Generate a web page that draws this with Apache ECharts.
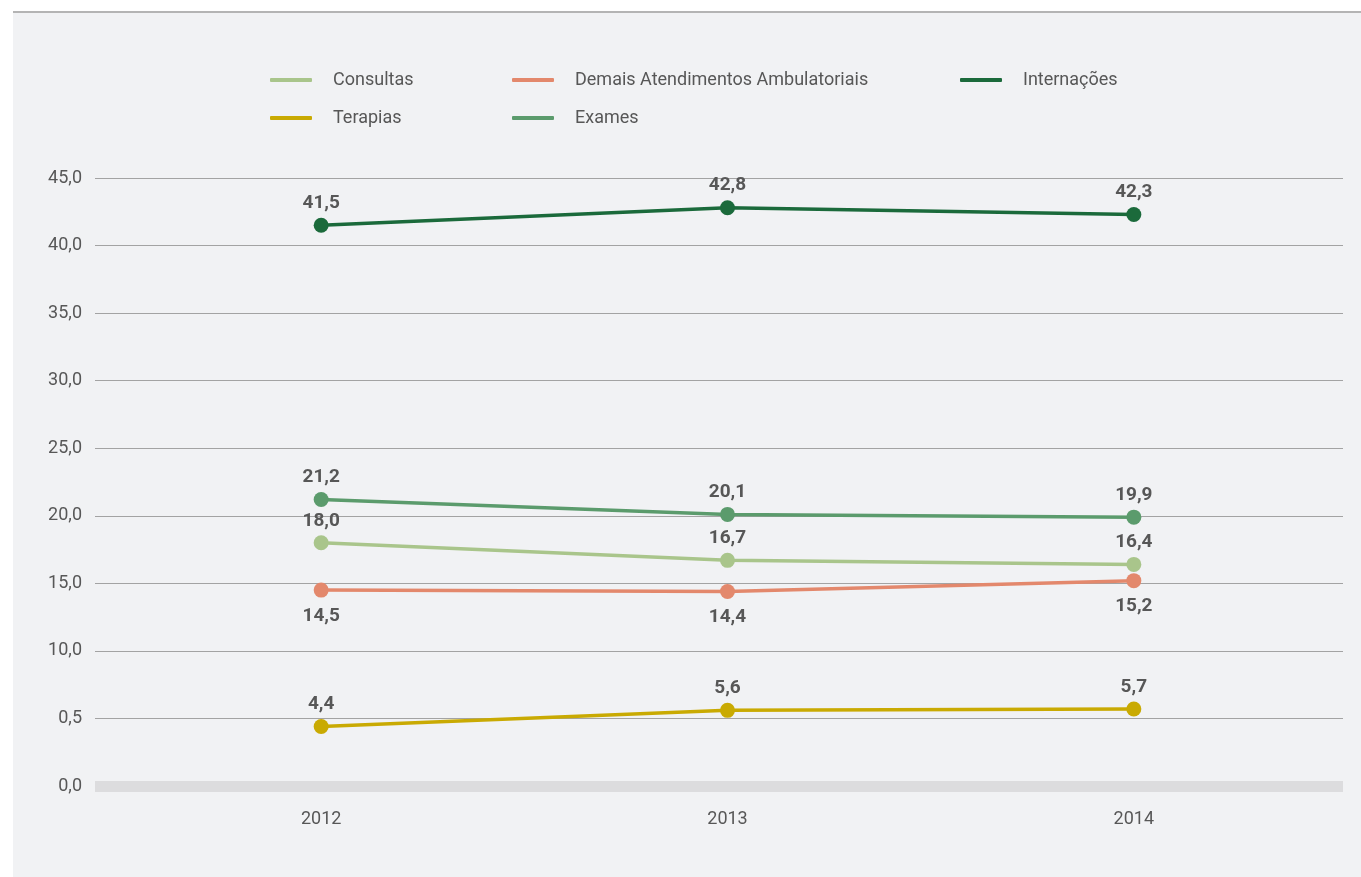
<!DOCTYPE html>
<html>
<head>
<meta charset="utf-8">
<script src="https://cdn.jsdelivr.net/npm/echarts@6/dist/echarts.min.js"></script>
<style>
    html, body {
        margin: 0;
        padding: 0;
        background: #fff;
    }
    .panel {
        position: absolute;
        left: 13px;
        top: 11px;
        right: 0;
        bottom: 0;
        background: #f1f2f4;
        border-top: 2px solid #b4b4b4;
    }
    #main {
        position: absolute;
        left: 0;
        top: 0;
        width: 1361px;
        height: 877px;
    }
</style>
</head>
<body>
<div class="panel"></div>
<div id="main"></div>
<script>
// dados do gráfico
const anos = ['2012', '2013', '2014']
const internacoes = [41.5, 42.8, 42.3]
const exames = [21.2, 20.1, 19.9]
const consultas = [18.0, 16.7, 16.4]
const demais = [14.5, 14.4, 15.2]
const terapias = [4.4, 5.6, 5.7]
// rótulos do eixo y como aparecem no original
const rotulosY = ['0,0', '0,5', '10,0', '15,0', '20,0', '25,0', '30,0', '35,0', '40,0', '45,0']

const fonte = 'Roboto, sans-serif'
const cinzaTexto = '#575757'

function fmt(v) {
    return v.toFixed(1).replace('.', ',')
}

function serie(nome, dados, cor, pos) {
    return {
        name: nome,
        type: 'line',
        xAxisIndex: 1,
        yAxisIndex: 1,
        data: dados,
        symbol: 'circle',
        symbolSize: 15,
        color: cor,
        lineStyle: { width: 3.5, color: cor },
        itemStyle: { color: cor },
        label: {
            show: true,
            position: pos,
            distance: pos === 'top' ? 5 : 9,
            color: cinzaTexto,
            fontFamily: fonte,
            fontWeight: 'bold',
            fontSize: 19,
            formatter: p => fmt(p.value)
        },
        animation: false
    }
}

function legenda(left, nomes) {
    return {
        orient: 'vertical',
        left: left,
        top: 71,
        padding: 0,
        itemWidth: 42,
        itemHeight: 4,
        itemGap: 20,
        icon: 'roundRect',
        data: nomes,
        selectedMode: false,
        textStyle: {
            fontFamily: fonte,
            fontSize: 18,
            lineHeight: 18,
            color: cinzaTexto,
            padding: [0, 0, 0, 16]
        }
    }
}

let chart = echarts.init(document.getElementById('main'))
let option = {
    backgroundColor: 'transparent',
    legend: [
        legenda(270, ['Consultas', 'Terapias']),
        legenda(512, ['Demais Atendimentos Ambulatoriais', 'Exames']),
        legenda(960, ['Internações'])
    ],
    grid: [
        { left: 95, right: 18, top: 178, bottom: 91 },
        { left: 118, right: 24, top: 178, bottom: 91 }
    ],
    xAxis: [
        {
            type: 'value',
            gridIndex: 0,
            min: 0,
            max: 1,
            axisLine: { show: true, lineStyle: { color: '#dcdcde', width: 11, cap: 'butt' } },
            axisTick: { show: false },
            axisLabel: { show: false },
            splitLine: { show: false }
        },
        {
            type: 'category',
            gridIndex: 1,
            data: anos,
            axisLine: { show: false },
            axisTick: { show: false },
            axisLabel: {
                margin: 24,
                color: cinzaTexto,
                fontFamily: fonte,
                fontSize: 18
            }
        }
    ],
    yAxis: [
        {
            type: 'value',
            gridIndex: 0,
            min: 0,
            max: 45,
            interval: 5,
            axisLine: { show: false },
            axisTick: { show: false },
            axisLabel: {
                margin: 13,
                color: cinzaTexto,
                fontFamily: fonte,
                fontSize: 18,
                padding: [0, 0, 12, 0],
                formatter: (v, i) => rotulosY[i]
            },
            splitLine: {
                show: true,
                lineStyle: { color: '#a3a3a3', width: 1 }
            }
        },
        {
            type: 'value',
            gridIndex: 1,
            min: 0,
            max: 45,
            show: false
        }
    ],
    series: [
        serie('Consultas', consultas, '#a9c58b', 'top'),
        serie('Demais Atendimentos Ambulatoriais', demais, '#e3886c', 'bottom'),
        serie('Internações', internacoes, '#1b6a3b', 'top'),
        serie('Terapias', terapias, '#c9aa02', 'top'),
        serie('Exames', exames, '#5b9b6c', 'top')
    ]
}

option && chart.setOption(option)
</script>
</body>
</html>
